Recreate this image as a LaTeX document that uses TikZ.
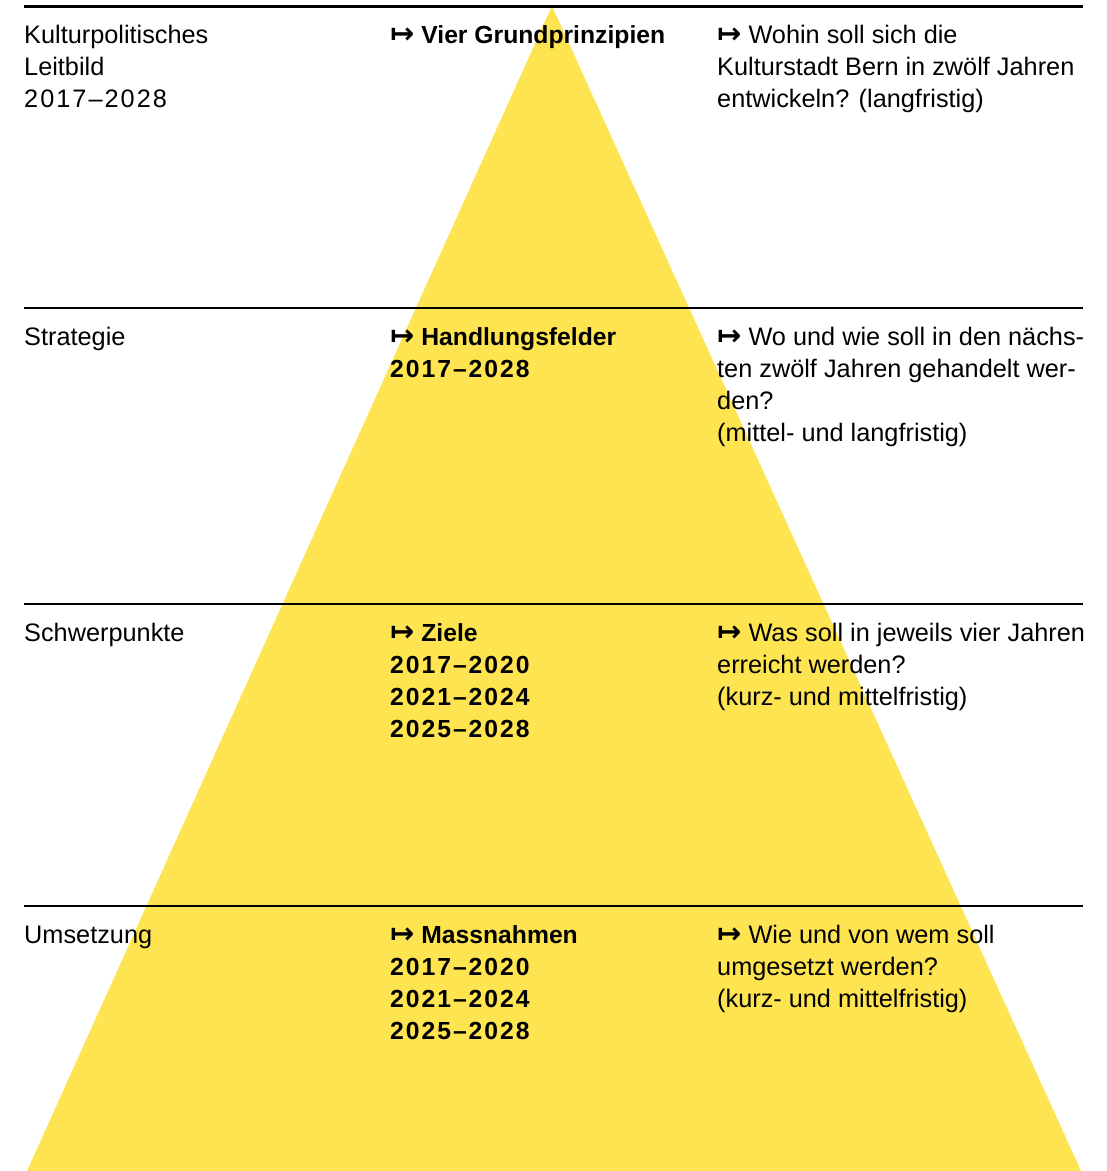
\documentclass[tikz,border=0pt]{standalone}
\usepackage{fontspec}
\setmainfont{Liberation Sans}
\newfontfamily\arrowfont{DejaVu Sans}
\usetikzlibrary{positioning}
\definecolor{pyramid}{HTML}{FDE450}
\newcommand{\maparrow}{{\arrowfont\fontsize{29}{32}\selectfont\bfseries ↦}}
\newcommand{\yr}[1]{{\addfontfeature{LetterSpace=8}#1}}
\tikzstyle{cell} = [anchor=base west, inner sep=0pt, align=left,
    font=\fontsize{25.3}{32}\selectfont]
\tikzstyle{key} = [cell, font=\fontsize{24.7}{32}\selectfont\bfseries]

\begin{document}
\begin{tikzpicture}[x=1pt,y=-1pt]
  \useasboundingbox (0,0) rectangle (1107,1171);

  % the pyramid behind everything
  \coordinate (top) at (552,6);
  \coordinate (bl) at (27,1171);
  \coordinate (br) at (1081,1171);
  \fill[pyramid] (top) -- (br) -- (bl) -- cycle;

  % the four rules
  \foreach \y/\w in {6/3pt,308/2.2pt,604/2.2pt,906/2.2pt}
    \draw[line width=\w] (24,\y) -- (1083,\y);

  % nodes sit on the baseline of their last line
  \node[cell] (leitbild) at (24,107) {Kulturpolitisches\\Leitbild\\\yr{2017–2028}};
  \node[key]  (prinzip)  at (390,43) {\maparrow{} Vier Grundprinzipien};
  \node[cell] (wohin)    at (717,107) {\maparrow{} Wohin soll sich die\\Kulturstadt Bern in zwölf Jahren\\entwickeln? (langfristig)};

  \node[cell] (strategie) at (24,345) {Strategie};
  \node[key]  (felder)    at (390,377) {\maparrow{} Handlungsfelder\\\yr{2017–2028}};
  \node[cell] (wo)        at (717,441) {\maparrow{} Wo und wie soll in den nächs-\\ten zwölf Jahren gehandelt wer-\\den?\\(mittel- und langfristig)};

  \node[cell] (schwer) at (24,641) {Schwerpunkte};
  \node[key]  (ziele)  at (390,737) {\maparrow{} Ziele\\\yr{2017–2020}\\\yr{2021–2024}\\\yr{2025–2028}};
  \node[cell] (was)    at (717,705) {\maparrow{} Was soll in jeweils vier Jahren\\erreicht werden?\\(kurz- und mittelfristig)};

  \node[cell] (umsetzung) at (24,943) {Umsetzung};
  \node[key]  (massnahmen) at (390,1039) {\maparrow{} Massnahmen\\\yr{2017–2020}\\\yr{2021–2024}\\\yr{2025–2028}};
  \node[cell] (wie)       at (717,1007) {\maparrow{} Wie und von wem soll\\umgesetzt werden?\\(kurz- und mittelfristig)};
\end{tikzpicture}
\end{document}
